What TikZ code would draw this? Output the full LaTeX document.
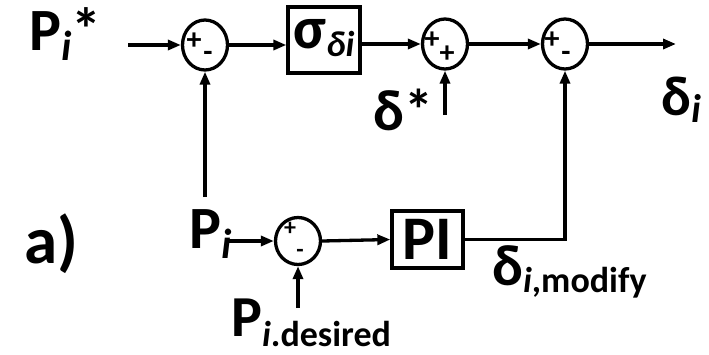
\documentclass[tikz,border=0pt]{standalone}
\usepackage{fontspec}
\setmainfont{Carlito}
\usetikzlibrary{arrows.meta,shapes.geometric}
\newcommand\lsub[3][10pt]{\raisebox{-#1}{\fontsize{#2}{#2}\selectfont\itshape #3}}
\newcommand\fs[1]{\fontsize{#1}{#1}\selectfont}
\begin{document}
\begin{tikzpicture}[x=1pt,y=-1pt,
  wire/.style={line width=3.3pt},
  arr/.style={wire,-{Triangle[length=13pt,width=10pt]}},
  sumj/.style={draw,ellipse,line width=3.3pt,minimum width=45pt,minimum height=50pt,inner sep=0pt},
  blk/.style={draw,rectangle,line width=3.3pt,inner sep=0pt},
  lbl/.style={anchor=base west,inner sep=0pt,font=\bfseries},
  sgn/.style={inner sep=0pt,font=\bfseries\fs{30}}]
\useasboundingbox (0,0) rectangle (709,354);
% summing junctions
\node[sumj] (s1) at (205,45) {};
\node[sumj] (s2) at (445,44) {};
\node[sumj] (s3) at (565,44) {};
\node[sumj,minimum height=47pt] (s4) at (298,241) {};
% blocks
\node[blk,minimum width=72pt,minimum height=66pt] (sig) at (324,40) {};
\node[inner sep=0pt,font=\bfseries] (sigt) at (324,38) {\fs{60}σ\lsub[8pt]{36}{δi}};
\node[blk,minimum width=71pt,minimum height=57pt,font=\bfseries\fs{62}] (pi) at (427.5,239.5) {PI};
% signs
\node[sgn] (p1) at (194,41) {+};
\node[sgn] (m1) at (208,56) {-};
\node[sgn] (p2a) at (432,40) {+};
\node[sgn] (p2b) at (447,54) {+};
\node[sgn] (p3) at (552,40) {+};
\node[sgn] (m3) at (566,56) {-};
\node[sgn,font=\bfseries\fs{24}] (p4) at (290,229) {+};
\node[sgn,font=\bfseries\fs{24}] (m4) at (300,253) {-};
% labels
\node[lbl] (lPs) at (29,50) {\fs{60}P\lsub{42}{i}*};
\node[lbl] (la) at (24,263) {\fs{67}a)};
\node[lbl] (lds) at (373,130) {\fs{58}δ*};
\node[lbl] (ldi) at (661,115) {\fs{56}δ\lsub[7pt]{40}{i}};
\node[lbl] (lPi) at (189,248) {\fs{60}P\lsub{42}{i}};
\node[lbl] (lPd) at (231,336) {\fs{58}P\raisebox{-10pt}{\fs{36}\textit{i}.desired}};
\node[lbl] (ldm) at (492,285) {\fs{58}δ\raisebox{-7pt}{\fs{36}\textit{i},modify}};
% free ends
\coordinate (in1) at (128,45);
\coordinate (out) at (676,44);
\coordinate (dsb) at (445,115);
\coordinate (pib) at (205,197);
\coordinate (pia) at (228,241);
\coordinate (pdb) at (298,308);
% connectors
\draw[arr] (in1) -- (s1.west);
\draw[arr] (s1.east) -- (sig.west |- s1.east);
\draw[arr] (sig.east |- s2.west) -- (s2.west);
\draw[arr] (s2.east) -- (s3.west);
\draw[arr] (s3.east) -- (out);
\draw[arr] (dsb) -- (s2.south);
\draw[arr] (pib) -- (s1.south);
\draw[arr] (pia) -- (s4.west);
\draw[arr] (s4.east) -- (pi.west);
\draw[arr] (pdb) -- (s4.south);
\draw[arr] (pi.east) -| (s3.south);
\end{tikzpicture}
\end{document}
